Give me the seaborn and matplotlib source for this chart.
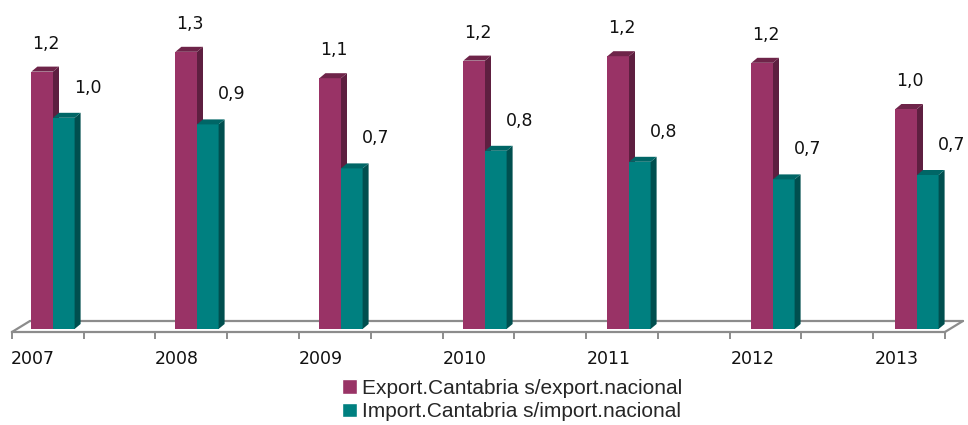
import numpy as np
import pandas as pd
import matplotlib
matplotlib.use("Agg")
import matplotlib.pyplot as plt
from matplotlib.patches import Polygon
import seaborn as sns

years = ["2007", "2008", "2009", "2010", "2011", "2012", "2013"]
export_share = [1.17, 1.26, 1.14, 1.22, 1.24, 1.21, 1.00]
import_share = [0.96, 0.93, 0.73, 0.81, 0.76, 0.68, 0.70]
series_names = ["Export.Cantabria s/export.nacional",
                "Import.Cantabria s/import.nacional"]

front = ["#993366", "#008080"]
side = ["#5E1F40", "#004F4F"]
top = ["#6E2449", "#006666"]

df = pd.DataFrame({
    "year": years * 2,
    "value": export_share + import_share,
    "serie": [series_names[0]] * len(years) + [series_names[1]] * len(years),
})

sns.set_style("white")
plt.rcParams["font.family"] = ["DejaVu Sans"]

W, H = 968, 425
fig = plt.figure(figsize=(W / 100, H / 100), dpi=100)
# axes from the floor front edge up to the top of the picture
ax = fig.add_axes([0, 93 / H, 1, 332 / H])

sns.barplot(data=df, x="year", y="value", hue="serie", palette=front,
            width=0.3, gap=0, saturation=1, ax=ax, legend=True)

xlim = (-53 / 144, (W - 53) / 144)
ylim = (-3 / 220, 329 / 220)
ax.set_xlim(*xlim)
ax.set_ylim(*ylim)

# pixel -> data conversion for the depth of the bars
sx = W / (xlim[1] - xlim[0])
sy = 332 / (ylim[1] - ylim[0])
ddx, ddy = 6 / sx, 5 / sy

for k, cont in enumerate(ax.containers):
    z = 2 + k
    for rect in cont.patches:
        rect.set_zorder(z)
        rect.set_edgecolor("none")
        x0, w, h = rect.get_x(), rect.get_width(), rect.get_height()
        ax.add_patch(Polygon([(x0 + w, 0), (x0 + w + ddx, ddy),
                              (x0 + w + ddx, h + ddy), (x0 + w, h)],
                             closed=True, fc=side[k], ec="none", zorder=z))
        ax.add_patch(Polygon([(x0, h), (x0 + ddx, h + ddy),
                              (x0 + w + ddx, h + ddy), (x0 + w, h)],
                             closed=True, fc=top[k], ec="none", zorder=z))

# value labels
offsets = [(4, 28), (24, 30)]
for k, cont in enumerate(ax.containers):
    for rect in cont.patches:
        h = rect.get_height()
        cx = rect.get_x() + rect.get_width() / 2
        ax.annotate(f"{h:.1f}".replace(".", ","), (cx, h),
                    xytext=(offsets[k][0] * 0.72, offsets[k][1] * 0.72),
                    textcoords="offset points", ha="center", va="center",
                    fontsize=12.5, color="#111111", zorder=6)

# floor (back line, sides), front edge is the bottom spine
floor_c = "#8C8C8C"
fx0, fx1 = -0.285, 6.194
bx0, bx1 = fx0 + 18 / sx, fx1 + 18 / sx
by = 8 / sy
ax.plot([bx0, bx1], [by, by], color=floor_c, lw=1.6, zorder=1, clip_on=False)
ax.plot([fx0, bx0], [ylim[0], by], color=floor_c, lw=1.6, zorder=1, clip_on=False)
ax.plot([fx1, bx1], [ylim[0], by], color=floor_c, lw=1.6, zorder=7, clip_on=False)

for s in ["top", "left", "right"]:
    ax.spines[s].set_visible(False)
ax.spines["bottom"].set_color(floor_c)
ax.spines["bottom"].set_linewidth(1.6)
ax.spines["bottom"].set_bounds(fx0, fx1)

ax.set_yticks([])
ax.set_xticks([i - 0.14 for i in range(len(years))])
ax.set_xticklabels(years, fontsize=12.5, color="#111111")
ax.set_xticks(np.linspace(fx0, fx1, 14), minor=True)
ax.tick_params(axis="x", which="both", bottom=True)
ax.tick_params(axis="x", which="major", length=0, pad=13)
ax.tick_params(axis="x", which="minor", length=5, width=1.4, color=floor_c,
               direction="out")
ax.set_xlabel("")
ax.set_ylabel("")

handles, labels = ax.get_legend_handles_labels()
ax.legend(handles, labels, loc="upper left", bbox_to_anchor=(342 / W, 46 / H),
          bbox_transform=fig.transFigure, frameon=False, handlelength=0.7,
          handleheight=0.7, handletextpad=0.25, labelspacing=0.2,
          borderpad=0, borderaxespad=0,
          prop={"family": "Liberation Sans", "size": 15})

fig.savefig("out.png", dpi=100)
